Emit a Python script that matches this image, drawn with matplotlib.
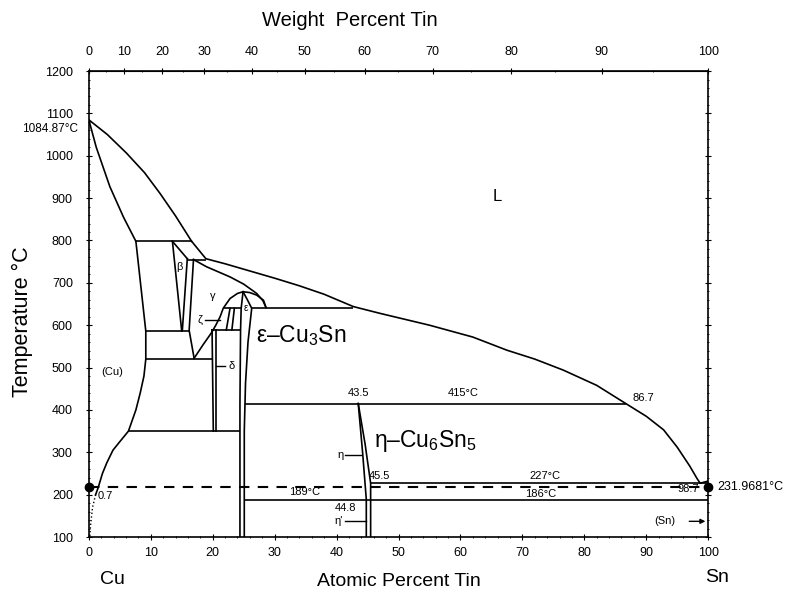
import numpy as np
import matplotlib.pyplot as plt

plt.rcParams['font.family'] = ['Liberation Sans', 'DejaVu Sans']
plt.rcParams['mathtext.fontset'] = 'custom'
plt.rcParams['mathtext.rm'] = 'Liberation Sans'
plt.rcParams['mathtext.it'] = 'Liberation Sans:italic'

# phase boundaries: atomic % Sn vs temperature (°C)
liq_cu_x = [0, 3, 6.1, 9, 11.5, 14, 16.6]
liq_cu_t = [1084.87, 1050, 1006, 960, 911, 858, 798]
sol_cu_x = [0, 1.2, 3.4, 5.6, 7.6]
sol_cu_t = [1084.87, 1020, 927, 855, 798]
liq_x = [16.6, 18.9, 22, 26, 30, 34, 38, 42.7, 47, 55, 62, 67.5, 72, 76.6, 82, 86.7,
         90, 92.8, 95, 97, 98.2, 98.7, 100]
liq_t = [798, 757, 745, 728, 711, 693, 673, 644, 628, 600, 572, 541, 520, 494, 458, 415,
         385, 353, 312, 268, 238, 227, 231.97]
solvus_x = [7.6, 9.2, 9.2, 8.9, 8.3, 7.6, 6.4, 5.0, 3.9, 2.9, 2.2, 1.5, 1.1]
solvus_t = [798, 586, 520, 480, 440, 400, 350, 325, 305, 275, 250, 216, 200]
solvus_low_x = [1.1, 0.6, 0.3, 0.15]
solvus_low_t = [200, 170, 130, 100]
beta_left_x = [13.5, 15.0]
beta_left_t = [798, 586]
beta_top_x = [13.5, 15.9]
beta_top_t = [798, 757]
beta_right_x = [15.9, 15.1]
beta_right_t = [757, 588]
gamma_left_x = [16.9, 16.2, 17.0]
gamma_left_t = [755, 588, 522]
gamma_sol_x = [16.9, 19, 22.8, 25, 27.1, 28.1, 28.6]
gamma_sol_t = [755, 738, 714, 697, 675, 658, 642]
dome_x = [17.0, 18.5, 19.8, 20.5, 21.2, 21.7, 22.8, 24.0, 24.9, 26.0, 27.1, 28.2, 28.6]
dome_t = [522, 555, 582, 600, 620, 640, 663, 675, 679, 677, 671, 659, 642]
eps_left_x = [24.9, 24.6, 24.5, 24.4, 24.4]
eps_left_t = [679, 640, 589, 415, 100]
eps_right_x = [24.9, 25.6, 26.3, 25.7, 25.3, 25.1, 25.1]
eps_right_t = [679, 660, 640, 560, 463, 350, 100]
delta_left_x = [19.9, 20.1]
delta_left_t = [589, 350]
delta_right_x = [20.6, 20.6]
delta_right_t = [589, 350]
zeta_a_x = [22.8, 22.2]
zeta_a_t = [640, 589]
zeta_b_x = [23.5, 23.1]
zeta_b_t = [640, 589]
eta_left_x = [43.5, 44.2, 44.8, 44.8]
eta_left_t = [415, 300, 189, 100]
eta_right_x = [43.5, 44.6, 45.5, 45.5]
eta_right_t = [415, 320, 227, 100]

# invariant lines: (x_start, x_end, temperature)
iso_x0 = [7.6, 16.0, 26.3, 9.2, 9.2, 19.8, 6.4, 25.2, 45.5, 25.2, 21.7]
iso_x1 = [16.6, 18.9, 42.7, 16.2, 20.1, 24.5, 24.4, 86.7, 99.9, 100, 24.6]
iso_t = [798, 755, 640, 586, 520, 589, 350, 415, 227, 187, 640]

reflow_t = 217
wt_ticks = list(range(0, 101, 10))
t_ticks = list(range(100, 1201, 100))
at_ticks = list(range(0, 101, 10))


def at2wt(a):
    a = np.asarray(a, dtype=float)
    num = a * 118.71
    den = num + (100 - a) * 63.546
    return 100 * num / np.where(den == 0, 1, den)


def wt2at(w):
    w = np.asarray(w, dtype=float)
    num = w / 118.71
    den = num + (100 - w) / 63.546
    return 100 * num / np.where(den == 0, 1, den)


fig = plt.figure(figsize=(7.86, 5.97), dpi=100)
ax = fig.add_axes([0.113, 0.1005, 0.788, 0.7805])

lw = 1.2
curves = [(liq_cu_x, liq_cu_t), (sol_cu_x, sol_cu_t), (liq_x, liq_t),
          (solvus_x, solvus_t), (beta_left_x, beta_left_t), (beta_top_x, beta_top_t),
          (beta_right_x, beta_right_t), (gamma_left_x, gamma_left_t),
          (gamma_sol_x, gamma_sol_t), (dome_x, dome_t), (eps_left_x, eps_left_t),
          (eps_right_x, eps_right_t), (delta_left_x, delta_left_t),
          (delta_right_x, delta_right_t), (zeta_a_x, zeta_a_t), (zeta_b_x, zeta_b_t),
          (eta_left_x, eta_left_t), (eta_right_x, eta_right_t)]
for cx, ct in curves:
    ax.plot(cx, ct, color='black', lw=lw, solid_joinstyle='round')
ax.plot(solvus_low_x, solvus_low_t, color='black', lw=1.0, ls=':')
ax.hlines(iso_t, iso_x0, iso_x1, color='black', lw=lw)

# dashed reflow line with end dots
ax.plot([0, 100], [reflow_t, reflow_t], color='black', lw=1.5, ls=(0, (5, 4)))
ax.plot([0, 100], [reflow_t, reflow_t], 'o', color='black', ms=6, clip_on=False)

# small leader lines
ax.plot([18.7, 21.2], [612, 612], color='black', lw=1)
ax.plot([20.6, 22.0], [503, 503], color='black', lw=1)
ax.plot([41.4, 43.9], [293, 293], color='black', lw=1)
ax.plot([41.3, 44.8], [137, 137], color='black', lw=1)
ax.annotate('', xy=(100, 137), xytext=(96.5, 137),
            arrowprops=dict(arrowstyle='-|>', color='black', lw=1, mutation_scale=7))

# labels inside the diagram
fs = 8
ax.text(65.9, 905, 'L', fontsize=12, ha='center', va='center')
ax.text(3.7, 489, '(Cu)', fontsize=fs, ha='center', va='center')
ax.text(14.7, 737, 'β', fontsize=fs, ha='center', va='center')
ax.text(20.0, 669, 'γ', fontsize=fs, ha='center', va='center')
ax.text(25.4, 640, 'ε', fontsize=7, ha='center', va='center')
ax.text(18.0, 612, 'ζ', fontsize=fs, ha='center', va='center')
ax.text(23.0, 503, 'δ', fontsize=fs, ha='center', va='center')
ax.text(34.3, 575, 'ε–Cu$_3$Sn', fontsize=16.5, ha='center', va='center')
ax.text(54.3, 327, 'η–Cu$_6$Sn$_5$', fontsize=16.5, ha='center', va='center')
ax.text(40.6, 293, 'η', fontsize=fs, ha='center', va='center')
ax.text(40.4, 137, "η'", fontsize=fs, ha='center', va='center')
ax.text(43.5, 428, '43.5', fontsize=fs, ha='center', va='bottom')
ax.text(60.4, 428, '415°C', fontsize=fs, ha='center', va='bottom')
ax.text(89.5, 427, '86.7', fontsize=fs, ha='center', va='center')
ax.text(47.0, 232, '45.5', fontsize=fs, ha='center', va='bottom')
ax.text(73.7, 232, '227°C', fontsize=fs, ha='center', va='bottom')
ax.text(72.9, 202, '186°C', fontsize=fs, ha='center', va='center')
ax.text(34.9, 207, '189°C', fontsize=fs, ha='center', va='center')
ax.text(41.4, 168, '44.8', fontsize=fs, ha='center', va='center')
ax.text(96.8, 214, '98.7', fontsize=fs, ha='center', va='center')
ax.text(2.6, 196, '0.7', fontsize=fs, ha='center', va='center')
ax.text(93.0, 137, '(Sn)', fontsize=fs, ha='center', va='center')
ax.text(-1.8, 1064, '1084.87°C', fontsize=8.5, ha='right', va='center', clip_on=False)
ax.text(101.5, 219, '231.9681°C', fontsize=9, ha='left', va='center', clip_on=False)

ax.set_xlim(0, 100)
ax.set_ylim(100, 1200)
ax.set_xticks(at_ticks)
ax.set_yticks(t_ticks)
ax.set_xticks(np.arange(0, 101, 2), minor=True)
ax.set_yticks(np.arange(100, 1201, 20), minor=True)
ax.tick_params(which='both', direction='inout', labelsize=9, right=True)
ax.tick_params(which='major', length=5)
ax.tick_params(which='minor', length=2)
ax.tick_params(axis='y', pad=9)
ax.tick_params(axis='x', pad=5)
for s in ax.spines.values():
    s.set_linewidth(1.2)

top = ax.secondary_xaxis('top', functions=(at2wt, wt2at))
top.set_xticks(wt_ticks)
top.set_xticks(np.arange(5, 100, 5), minor=True)
top.tick_params(which='both', direction='inout', labelsize=9, pad=7)
top.tick_params(which='major', length=5)
top.tick_params(which='minor', length=2)

fig.text(350 / 786, 1 - 20 / 597, 'Weight  Percent Tin', fontsize=14.5,
         ha='center', va='center')
fig.text(22 / 786, 1 - 322 / 597, 'Temperature °C', fontsize=15.5, rotation=90,
         ha='center', va='center')
ax.set_xlabel('Atomic Percent Tin', fontsize=14, labelpad=10)
fig.text(112 / 786, 1 - 580 / 597, 'Cu', fontsize=14, ha='center', va='center')
fig.text(717 / 786, 1 - 578 / 597, 'Sn', fontsize=14, ha='center', va='center')

fig.savefig('out.png', dpi=100)
